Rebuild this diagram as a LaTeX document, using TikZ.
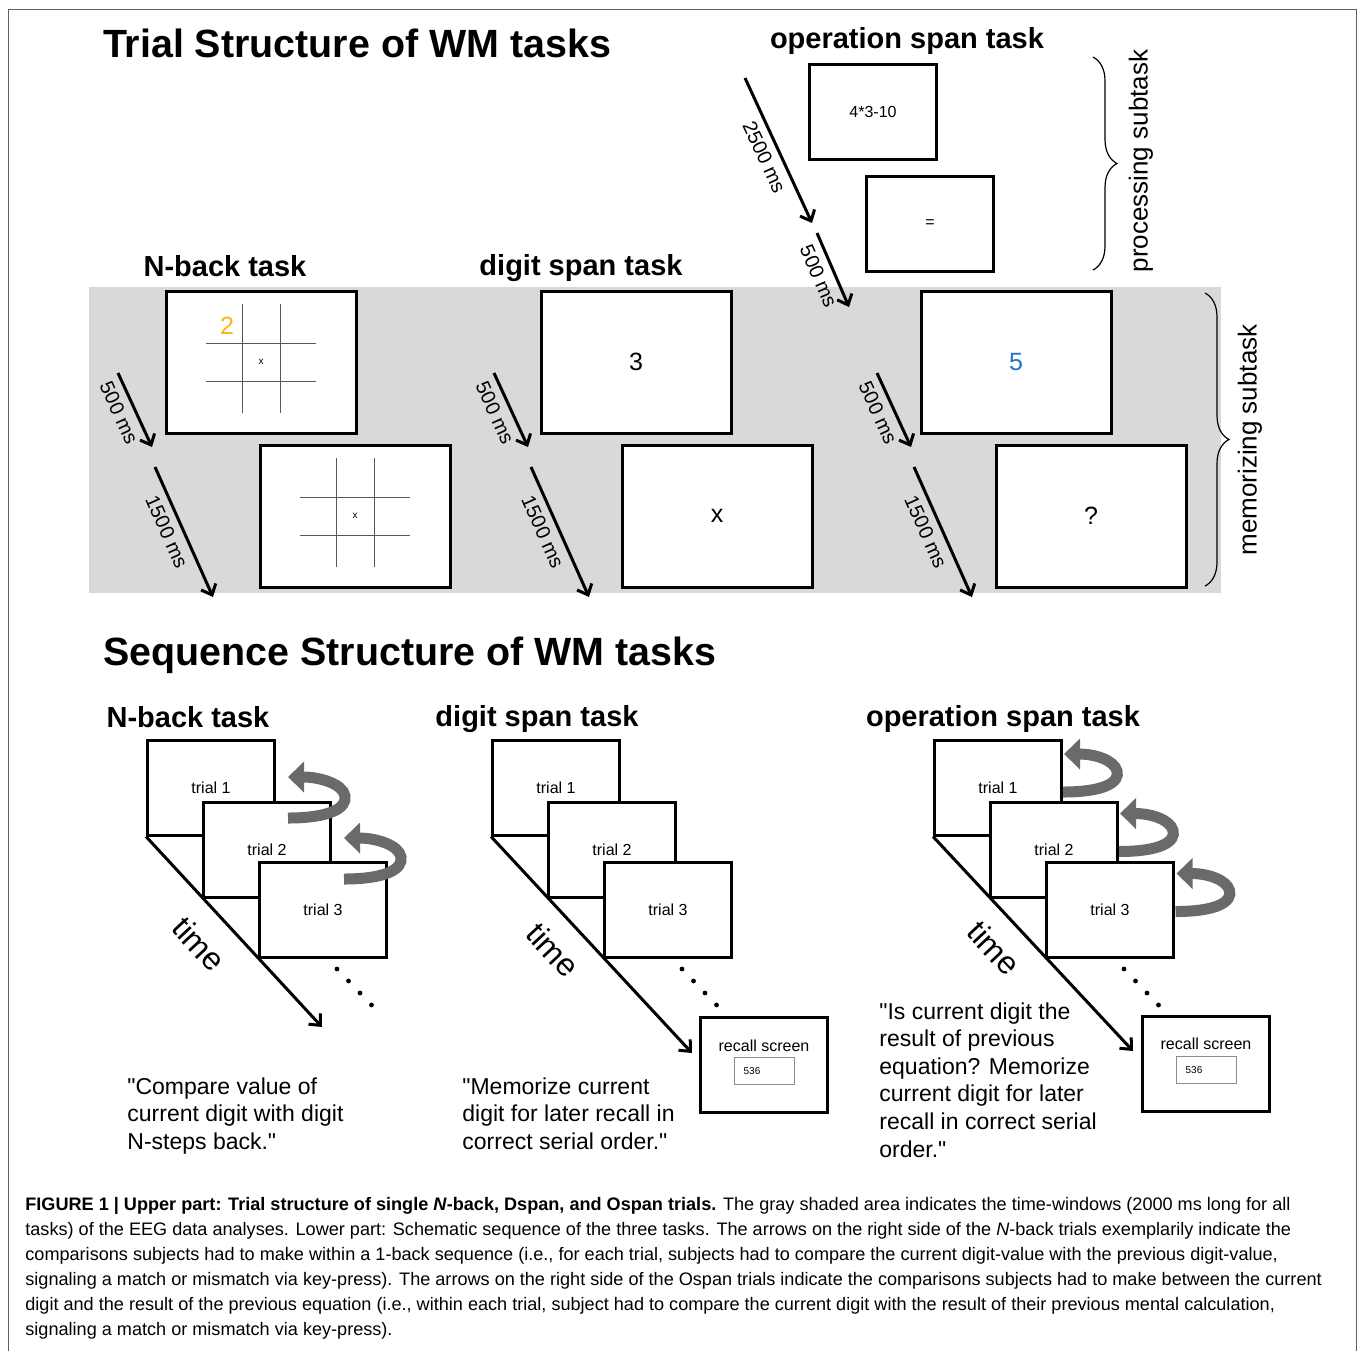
\documentclass[tikz,border=0pt]{standalone}
\usepackage{fontspec}
\setmainfont{Liberation Sans}[Ligatures=TeXOff]
\usetikzlibrary{arrows.meta,decorations.pathreplacing}

\definecolor{bandgray}{HTML}{D9D9D9}
\definecolor{digitorange}{HTML}{FDB515}
\definecolor{digitblue}{HTML}{2371C8}
\definecolor{ribbongray}{HTML}{6A6A6A}
\definecolor{framegray}{HTML}{606060}

\begin{document}
\begin{tikzpicture}[x=0.5pt,y=-0.5pt,
    screen/.style={draw,line width=1.5pt,fill=white,inner sep=0pt,
      minimum width=95pt,minimum height=71pt,font=\fontsize{12.5}{15}\selectfont},
    opscreen/.style={screen,minimum width=63.5pt,minimum height=47.5pt,font=\fontsize{8}{10}\selectfont},
    trialbox/.style={screen,minimum width=63.5pt,minimum height=47.5pt,font=\fontsize{8}{10}\selectfont},
    heading/.style={font=\bfseries\fontsize{14.5}{17}\selectfont},
    bigheading/.style={font=\bfseries\fontsize{19.7}{23}\selectfont},
    timing/.style={line width=1.5pt,-{Straight Barb[length=4.5pt,width=8pt]}},
    mslabel/.style={font=\fontsize{10}{12}\selectfont,sloped,below,inner sep=3.5pt},
    timelabel/.style={font=\fontsize{16}{19}\selectfont,rotate=-47},
    gridline/.style={draw=black!65,line width=0.5pt},
    loopback/.style={ribbongray,line width=5.5pt,-{Triangle[length=8pt,width=15pt]}},
    subtask/.style={decorate,decoration={brace,amplitude=12pt},line width=0.6pt},
    sidelabel/.style={font=\fontsize{13}{15}\selectfont,rotate=90},
    note/.style={font=\fontsize{11.5}{13.8}\selectfont,align=left,anchor=north west,inner sep=0pt},
    smalltext/.style={font=\fontsize{8}{10}\selectfont},
    tinytext/.style={font=\fontsize{5}{6}\selectfont}
  ]
    \useasboundingbox (0,0) rectangle (1360,1351);

    % frame
    \draw[framegray,line width=0.5pt] (8,1351) -- (8,9) -- (1356,9) -- (1356,1351);

    %%% upper part
    \node[bigheading] (title1) at (357,43) {Trial Structure of WM tasks};
    \fill[bandgray] (89,287) rectangle (1221,593);

    \node[heading] (nbHead) at (225,266) {N-back task};
    \node[heading] (dsHead) at (581,268) {digit span task};
    \node[heading] (osHead) at (907,41) {operation span task};

    % N-back screens with grid
    \node[screen] (nbA) at (261,362) {};
    \node[screen] (nbB) at (355,516) {};
    \foreach \scr in {nbA,nbB} {
      \begin{scope}[shift={(\scr.center)}]
        \foreach \d in {-19,19} {
          \draw[gridline] (\d,-58) -- (\d,51);
          \draw[gridline] (-55,\d) -- (55,\d);
        }
      \end{scope}
      \node[tinytext] (\scr x) at (\scr.center) {x};
    }
    \node[font=\fontsize{12.5}{15}\selectfont,text=digitorange] (nbDigit) at (227,326) {2};

    % digit span screens
    \node[screen] (dsA) at (636,362) {3};
    \node[screen] (dsB) at (717,516) {x};

    % operation span screens
    \node[opscreen] (osEq) at (873,112) {4*3-10};
    \node[opscreen] (osIs) at (930,224) {=};
    \node[screen,text=digitblue] (osA) at (1016,362) {5};
    \node[screen] (osB) at (1091,516) {?};

    % timing arrows
    \coordinate (osP1) at (745,78);
    \coordinate (osP2) at (812,223);
    \coordinate (osP3) at (817,233);
    \coordinate (osP4) at (849,307);
    \draw[timing] (osP1) -- node[mslabel] (osMsP1) {2500 ms} (osP2);
    \draw[timing] (osP3) -- node[mslabel] (osMsP2) {500 ms} (osP4);
    \foreach \dx/\nm in {0/nb,376/ds,759/os} {
      \begin{scope}[shift={(\dx,0)}]
        \coordinate (\nm a1) at (118,373);
        \coordinate (\nm a2) at (152,447);
        \coordinate (\nm b1) at (155,467);
        \coordinate (\nm b2) at (213,597);
      \end{scope}
      \draw[timing] (\nm a1) -- node[mslabel,pos=0.45] (\nm Ms1) {500 ms} (\nm a2);
      \draw[timing] (\nm b1) -- node[mslabel,pos=0.45] (\nm Ms2) {1500 ms} (\nm b2);
    }

    % braces
    \coordinate (procTop) at (1093,57);
    \coordinate (procBot) at (1093,270);
    \coordinate (memTop) at (1205,293);
    \coordinate (memBot) at (1205,586);
    \draw[subtask] (procTop) -- (procBot);
    \draw[subtask] (memTop) -- (memBot);
    \node[sidelabel] (procLbl) at (1141,161) {processing subtask};
    \node[sidelabel] (memLbl) at (1250,440) {memorizing subtask};

    %%% lower part
    \node[bigheading] (title2) at (410,655) {Sequence Structure of WM tasks};
    \node[heading] (nbHead2) at (188,717) {N-back task};
    \node[heading] (dsHead2) at (537,719) {digit span task};
    \node[heading] (osHead2) at (1003,719) {operation span task};

    % trial stacks
    \foreach \nm/\x in {nb/211,ds/556,os/998} {
      \node[trialbox] (\nm T1) at (\x,787.5) {trial 1};
      \node[trialbox] (\nm T2) at (\x+56,850) {trial 2};
      \node[trialbox] (\nm T3) at (\x+112,909.5) {trial 3};
      \foreach \i in {0,...,3}
        \fill (\x+126+11.5*\i,969+12*\i) circle (1.2pt);
    }

    % recall screens
    \node[trialbox] (dsRec) at (764,1064.5) {};
    \node[smalltext] (dsRecLbl) at (764,1046) {recall screen};
    \node[draw=black!45,line width=0.4pt,minimum width=30pt,minimum height=13.5pt,inner sep=0pt] (dsRecBox) at (764,1070.5) {};
    \node[tinytext] (dsRecVal) at (752,1071) {536};
    \node[trialbox] (osRec) at (1205.5,1063.5) {};
    \node[smalltext] (osRecLbl) at (1206,1044) {recall screen};
    \node[draw=black!45,line width=0.4pt,minimum width=30pt,minimum height=13.5pt,inner sep=0pt] (osRecBox) at (1206,1069.5) {};
    \node[tinytext] (osRecVal) at (1194,1070) {536};

    % time arrows
    \coordinate (nbEnd) at (322,1027);
    \coordinate (dsEnd) at (692,1053);
    \coordinate (osEnd) at (1133,1051);
    \draw[timing] (nbT1.south west) -- (nbEnd);
    \draw[timing] (dsT1.south west) -- (dsEnd);
    \draw[timing] (osT1.south west) -- (osEnd);
    \node[timelabel] (nbTime) at (199,944) {time};
    \node[timelabel] (dsTime) at (553,950) {time};
    \node[timelabel] (osTime) at (994,948) {time};

    % comparison arrows
    \foreach \dx/\dy in {0/0,56/61} {
      \begin{scope}[shift={(\dx,\dy)}]
        \draw[loopback] (288,818) .. controls (330,818) and (347,808) .. (345,796)
          .. controls (343,784) and (320,777) .. (288,777);
      \end{scope}
    }
    \foreach \dx/\dy in {0/0,56/59.5,112.5/119.5} {
      \begin{scope}[shift={(\dx,\dy)}]
        \draw[loopback] (1063,792) .. controls (1105,792) and (1120,782) .. (1117,771)
          .. controls (1114,760) and (1095,754) .. (1064,754);
      \end{scope}
    }

    % task descriptions
    \node[note] (nbNote) at (127,1077) {"Compare value of\\current digit with digit\\N-steps back."};
    \node[note] (dsNote) at (462,1077) {"Memorize current\\digit for later recall in\\correct serial order."};
    \node[note] (osNote) at (879,1002) {"Is current digit the\\result of previous\\equation? Memorize\\current digit for later\\recall in correct serial\\order."};

    % caption
    \node[font=\fontsize{9.05}{12.5}\selectfont,align=left,anchor=north west,inner sep=0pt] (caption) at (25,1197)
      {\textbf{FIGURE 1 | Upper part: Trial structure of single \textit{N}-back, Dspan, and Ospan trials.} The gray shaded area indicates the time-windows (2000 ms long for all\\
      tasks) of the EEG data analyses. Lower part: Schematic sequence of the three tasks. The arrows on the right side of the \textit{N}-back trials exemplarily indicate the\\
      comparisons subjects had to make within a 1-back sequence (i.e., for each trial, subjects had to compare the current digit-value with the previous digit-value,\\
      signaling a match or mismatch via key-press). The arrows on the right side of the Ospan trials indicate the comparisons subjects had to make between the current\\
      digit and the result of the previous equation (i.e., within each trial, subject had to compare the current digit with the result of their previous mental calculation,\\
      signaling a match or mismatch via key-press).};
\end{tikzpicture}
\end{document}
